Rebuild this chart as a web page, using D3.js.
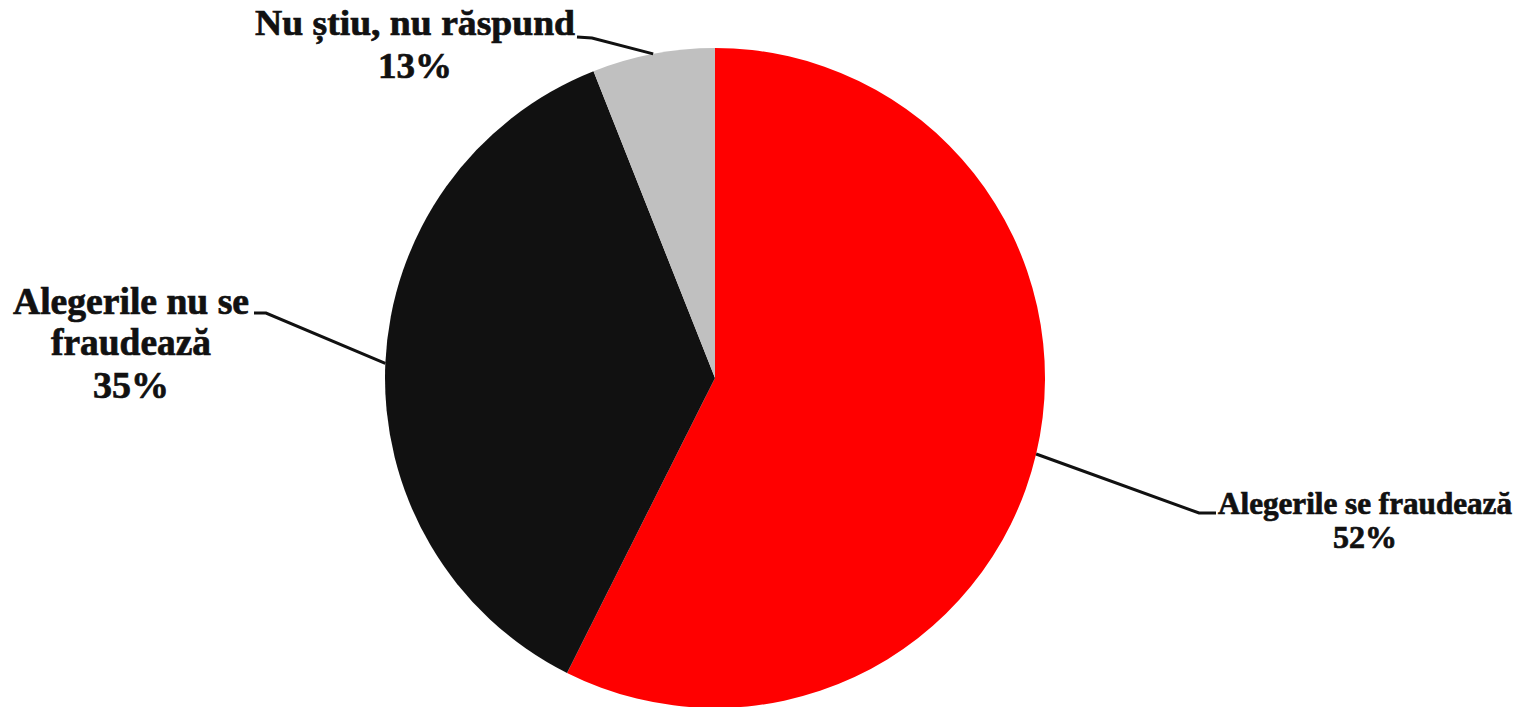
<!DOCTYPE html>
<html>
<head>
<meta charset="utf-8">
<script src="https://cdn.jsdelivr.net/npm/d3@7"></script>
<style>
  html, body { margin: 0; padding: 0; background: #fff; }
  svg { display: block; }
  text { font-family: "Liberation Serif", "Times New Roman", serif; font-weight: bold; fill: #111; stroke: #111; stroke-width: 0.7; }
</style>
</head>
<body>
<svg id="chart" width="1523" height="707"></svg>
<script>
const categories = ["Alegerile se fraudează", "Alegerile nu se fraudează", "Nu știu, nu răspund"];
const sliceValues = [57.4, 36.6, 6.0];
const percentLabels = ["52%", "35%", "13%"];
const labelLines = [["Alegerile se fraudează", "52%"], ["Alegerile nu se", "fraudează", "35%"], ["Nu știu, nu răspund", "13%"]];
const colors = ["#ff0000", "#111111", "#c0c0c0"];

const svg = d3.select("#chart");
const cx = 715, cy = 378, r = 330;

const pie = d3.pie().sort(null).value(d => d)(sliceValues);
const arc = d3.arc().innerRadius(0).outerRadius(r);

const g = svg.append("g").attr("transform", `translate(${cx},${cy})`);
g.selectAll("path.slice").data(pie).join("path")
  .attr("class", "slice")
  .attr("d", arc)
  .attr("fill", (d, i) => colors[i]);

// label layout: elbow, end of leader, text centre x, baselines, widths, font size
const layout = [
  { elbow: [1199, 513], end: [1216, 513], tx: 1365, ys: [514, 548], ws: [294, 64], fs: 31 },
  { elbow: [266, 313], end: [254, 313], tx: 131, ys: [314, 355, 398], ws: [236, 160, 76], fs: 37 },
  { elbow: [592, 38], end: [577, 37], tx: 415, ys: [35, 78], ws: [320, 74], fs: 36 }
];

const outerPt = d3.arc().innerRadius(r).outerRadius(r);
pie.forEach((d, i) => {
  const c = outerPt.centroid(d);
  const p0 = [cx + c[0], cy + c[1]];
  const L = layout[i];
  svg.append("path")
    .attr("d", d3.line()([p0, L.elbow, L.end]))
    .attr("fill", "none")
    .attr("stroke", "#111")
    .attr("stroke-width", 3);
  const t = svg.append("text")
    .attr("text-anchor", "middle")
    .attr("font-size", L.fs);
  labelLines[i].forEach((s, k) => {
    t.append("tspan")
      .attr("x", L.tx)
      .attr("y", L.ys[k])
      .attr("textLength", L.ws[k])
      .attr("lengthAdjust", "spacingAndGlyphs")
      .text(s);
  });
});
</script>
</body>
</html>
